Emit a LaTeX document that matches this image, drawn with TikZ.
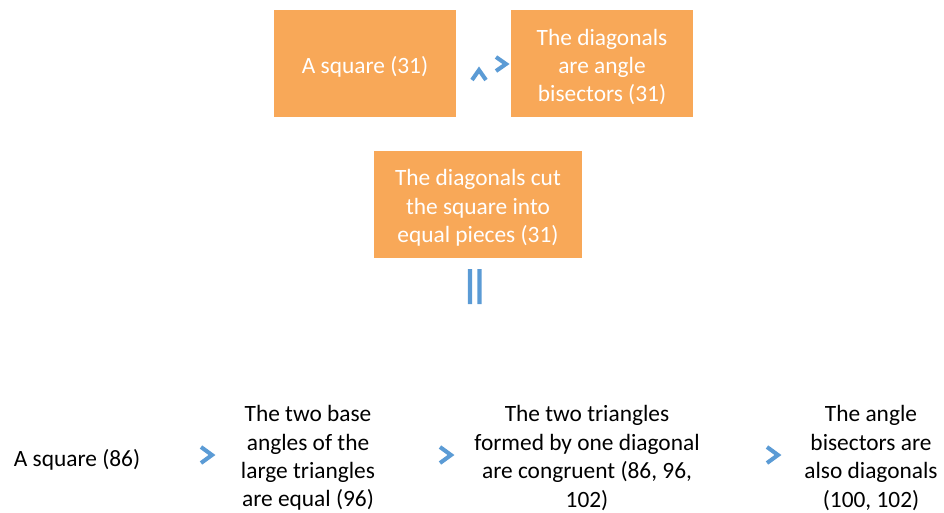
\documentclass[tikz,border=0pt]{standalone}
\usepackage{fontspec}
\setmainfont{Carlito}
\usetikzlibrary{positioning}
\definecolor{boxorange}{RGB}{248,168,88}
\definecolor{chevblue}{RGB}{91,155,213}
\tikzset{box node/.style={rectangle,fill=boxorange,inner sep=0pt},
         box text/.style={text=white,align=center,inner sep=0pt},
         plain node/.style={align=center,inner sep=0pt},
         chev line/.style={draw=chevblue,line width=2.3pt},
         every node/.style={font=\fontsize{13.3}{16.2}\selectfont}}

\begin{document}
\begin{tikzpicture}[x=0.02cm, y=-0.02cm]
       \useasboundingbox (0,0) rectangle (944,512);
       % top boxes
       \node[box node, minimum width=3.64cm, minimum height=2.14cm] (1) at (365,63.5) {};
       \node[box node, minimum width=3.64cm, minimum height=2.14cm] (2) at (602,63.5) {};
       \node[box node, minimum width=4.16cm, minimum height=2.14cm] (3) at (478,204.5) {};
       \node[box text] (1t) at ([yshift=-0.07cm]1.center) {A square (31)};
       \node[box text] (2t) at ([yshift=-0.07cm]2.center) {The diagonals\\are angle\\bisectors (31)};
       \node[box text] (3t) at ([yshift=-0.07cm]3.center) {The diagonals cut\\the square into\\equal pieces (31)};
       
       % bottom row
       \node[plain node] (4) at (77,460) {A square (86)};
       \node[plain node] (5) at (308,458) {The two base\\angles of the\\large triangles\\are equal (96)};
       \node[plain node] (6) at (587,458) {The two triangles\\formed by one diagonal\\are congruent (86, 96,\\102)};
       \node[plain node] (7) at (871,458) {The angle\\bisectors are\\also diagonals\\(100, 102)};
       
       % signs
       \path[chev line]
       (472,80) -- (479,70) -- (486,80)
       (496,57) -- (506,64) -- (496,71)
       (470,269) -- (470,304)
       (479.5,269) -- (479.5,304)
       (201,447) -- (212,455) -- (201,463)
       (440,447) -- (451,455) -- (440,463)
       (767,447) -- (778,455) -- (767,463);
\end{tikzpicture}
\end{document}
